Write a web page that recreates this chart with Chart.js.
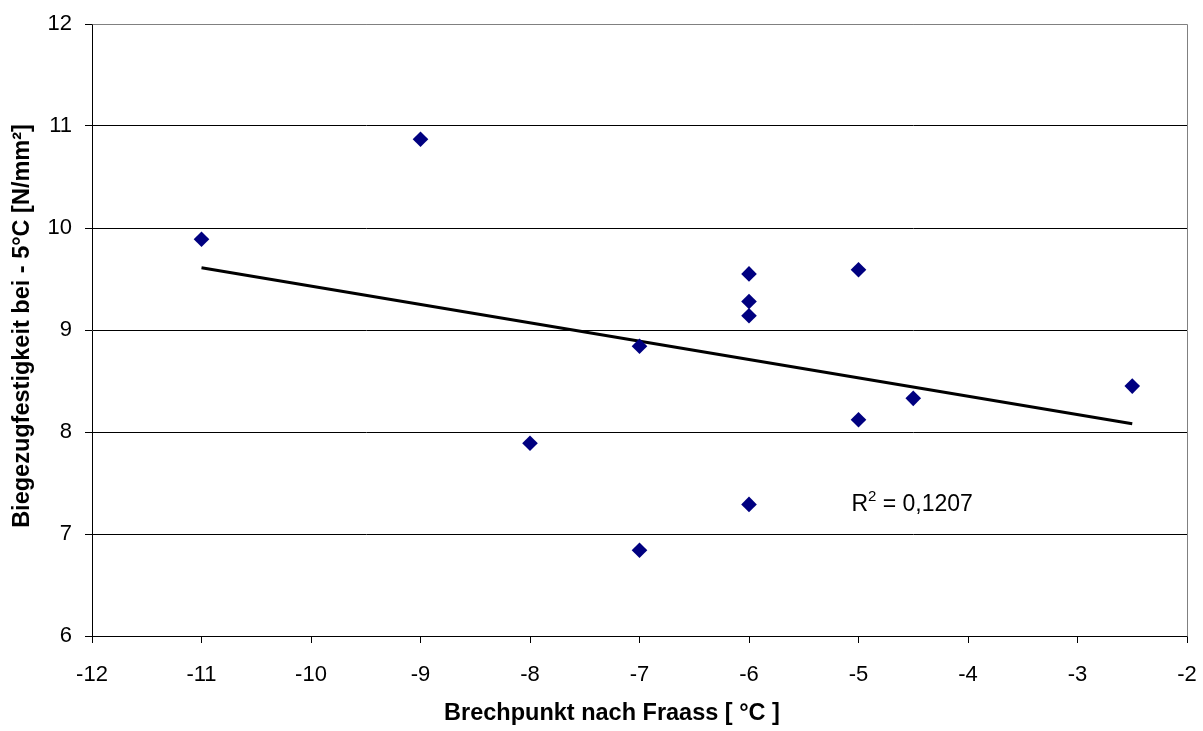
<!DOCTYPE html>
<html>
<head>
<meta charset="utf-8">
<script src="https://cdn.jsdelivr.net/npm/chart.js@4.4.1/dist/chart.umd.min.js"></script>
<style>
  html, body { margin: 0; padding: 0; background: #ffffff; }
  #wrap { width: 1203px; height: 731px; position: relative; }
</style>
</head>
<body>
<div id="wrap"><canvas id="c" width="1203" height="731"></canvas></div>
<script>
// Data
const brechpunkt = [-11, -9, -8, -7, -7, -6, -6, -6, -6, -5, -5, -4.5, -2.5];
const biegezug   = [9.89, 10.87, 7.89, 8.84, 6.84, 9.55, 9.28, 9.14, 7.29, 9.59, 8.12, 8.33, 8.45];
const trendX = [-11, -2.5];
const trendY = [9.61, 8.08];
const rSquaredText = "0,1207";
const rSquaredPos = [-5.065, 7.29];
const xTitle = "Brechpunkt nach Fraass [ °C ]";
const yTitle = "Biegezugfestigkeit bei - 5°C [N/mm²]";

const FONT = "'Liberation Sans', Arial, sans-serif";

const pointsData = brechpunkt.map((x, i) => ({ x: x, y: biegezug[i] }));
const trendData = trendX.map((x, i) => ({ x: x, y: trendY[i] }));

const framePlugin = {
  id: 'frame',
  afterDatasetsDraw(chart) {
    const { ctx, chartArea: a, scales } = chart;
    ctx.save();
    // gray top and right border
    ctx.strokeStyle = '#808080';
    ctx.lineWidth = 1;
    ctx.beginPath();
    ctx.moveTo(Math.round(a.left) + 0.5, Math.round(a.top) + 0.5);
    ctx.lineTo(Math.round(a.right) + 0.5, Math.round(a.top) + 0.5);
    ctx.lineTo(Math.round(a.right) + 0.5, Math.round(a.bottom) + 0.5);
    ctx.stroke();
    // R² annotation
    const px = scales.x.getPixelForValue(rSquaredPos[0]);
    const py = scales.y.getPixelForValue(rSquaredPos[1]);
    ctx.fillStyle = '#000';
    ctx.textBaseline = 'middle';
    ctx.textAlign = 'left';
    ctx.font = '23px ' + FONT;
    ctx.fillText('R', px, py);
    let w = ctx.measureText('R').width;
    ctx.font = '15px ' + FONT;
    ctx.fillText('2', px + w, py - 8);
    w += ctx.measureText('2').width;
    ctx.font = '23px ' + FONT;
    ctx.fillText(' = ' + rSquaredText, px + w, py);
    ctx.restore();
  },
  afterDraw(chart) {
    const { ctx } = chart;
    ctx.save();
    ctx.fillStyle = '#000';
    ctx.textAlign = 'center';
    ctx.textBaseline = 'middle';
    ctx.font = 'bold 23.5px ' + FONT;
    ctx.fillText(xTitle, 612, 714);
    ctx.translate(23, 326);
    ctx.rotate(-Math.PI / 2);
    ctx.fillText(yTitle, 0, 0);
    ctx.restore();
  }
};

function zeroPad(scale) {
  scale.paddingLeft = 0;
  scale.paddingRight = 0;
  scale.paddingTop = 0;
  scale.paddingBottom = 0;
}

new Chart(document.getElementById('c'), {
  type: 'scatter',
  data: {
    datasets: [
      {
        label: 'Messwerte',
        data: pointsData,
        pointStyle: 'rectRot',
        pointRadius: 7.8,
        pointHoverRadius: 7.8,
        backgroundColor: '#000080',
        borderColor: '#000080',
        borderWidth: 0,
        showLine: false,
        order: 1
      },
      {
        label: 'Trend',
        data: trendData,
        showLine: true,
        pointRadius: 0,
        borderColor: '#000000',
        borderWidth: 3,
        fill: false,
        order: 2
      }
    ]
  },
  options: {
    responsive: false,
    animation: false,
    events: [],
    layout: { padding: { left: 0, top: 24, right: 16, bottom: 0 } },
    plugins: {
      legend: { display: false },
      tooltip: { enabled: false }
    },
    scales: {
      x: {
        type: 'linear',
        min: -12,
        max: -2,
        ticks: {
          stepSize: 1,
          color: '#000',
          font: { family: FONT, size: 22 },
          padding: 19,
          maxRotation: 0
        },
        grid: {
          drawOnChartArea: false,
          drawTicks: true,
          tickLength: 7,
          tickColor: '#000'
        },
        border: { display: true, color: '#000', width: 1 },
        title: { display: false },
        afterFit(scale) { scale.height = 95; zeroPad(scale); }
      },
      y: {
        type: 'linear',
        min: 6,
        max: 12,
        ticks: {
          stepSize: 1,
          color: '#000',
          font: { family: FONT, size: 22 },
          padding: 13
        },
        grid: {
          color: (c) => (c.tick && c.tick.value === 12 ? '#808080' : '#000000'),
          lineWidth: 1,
          drawTicks: true,
          tickLength: 7,
          tickColor: '#000'
        },
        border: { display: true, color: '#000', width: 1 },
        title: { display: false },
        afterFit(scale) { scale.width = 92; zeroPad(scale); }
      }
    }
  },
  plugins: [framePlugin]
});
</script>
</body>
</html>
